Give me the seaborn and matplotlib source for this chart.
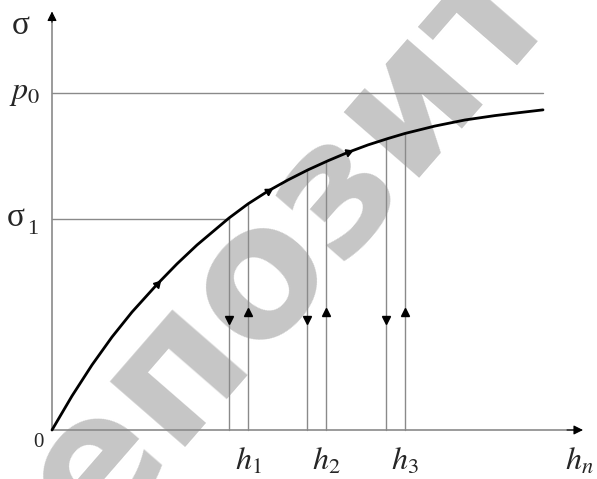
import numpy as np
import pandas as pd
import matplotlib
matplotlib.use("Agg")
import matplotlib.pyplot as plt
import seaborn as sns

# curve (h in arbitrary units, sigma scaled so p0 = 10)
curve_h = [0.0, 0.4, 0.8, 1.2, 1.6, 2.1, 2.5, 2.9, 3.3, 3.54, 3.92, 4.32,
           4.72, 5.12, 5.52, 5.92, 6.32, 6.72, 7.06, 7.66, 8.26, 8.86, 9.36, 9.82]
curve_s = [0.0, 1.01, 1.93, 2.76, 3.50, 4.32, 4.93, 5.49, 5.99, 6.29, 6.71, 7.09,
           7.42, 7.72, 7.99, 8.24, 8.46, 8.65, 8.80, 9.02, 9.20, 9.33, 9.42, 9.50]

p0 = 10.0
sigma1 = 6.26
h_down = [3.54, 5.10, 6.68]   # unloading lines (arrow down)
h_up = [3.92, 5.48, 7.06]     # reloading lines (arrow up)
h_labels = ["$h_1$", "$h_2$", "$h_3$"]
arrow_level = 3.38
curve_arrow_h = [2.1, 4.32, 5.92]

sns.set_style("white")
plt.rcParams["font.family"] = ["Liberation Serif", "DejaVu Serif"]
plt.rcParams["mathtext.fontset"] = "stix"

fig = plt.figure(figsize=(5.97, 4.79), dpi=100)
ax = fig.add_axes([0, 0, 1, 1])
ax.set_xlim(-1.04, 10.9)
ax.set_ylim(-1.454, 12.76)
ax.axis("off")

# watermark
ax.text(-0.9, -6.6, "Репозиторий БНТУ", rotation=49, rotation_mode="anchor",
        ha="left", va="baseline", fontsize=131, fontweight="bold",
        family="DejaVu Sans", color="#c6c6c6", zorder=0)

grey = "#8a8a8a"
# axes with arrows
ax.plot([0, 10.5], [0, 0], color=grey, lw=1.2)
ax.plot([0, 0], [0, 12.2], color=grey, lw=1.2)
ax.annotate("", xy=(10.62, 0), xytext=(10.3, 0),
            arrowprops=dict(arrowstyle="-|>", color="black", lw=0.8,
                            mutation_scale=14, shrinkA=0, shrinkB=0))
ax.annotate("", xy=(0, 12.42), xytext=(0, 12.1),
            arrowprops=dict(arrowstyle="-|>", color="black", lw=0.8,
                            mutation_scale=14, shrinkA=0, shrinkB=0))

# horizontal reference lines
ax.plot([0, curve_h[-1]], [p0, p0], color=grey, lw=1)
ax.plot([0, h_down[0]], [sigma1, sigma1], color=grey, lw=1)

# vertical unloading / reloading lines
for hd, hu in zip(h_down, h_up):
    for hx in (hd, hu):
        top = np.interp(hx, curve_h, curve_s)
        ax.plot([hx, hx], [0, top], color=grey, lw=1)
    ax.plot(hd, arrow_level - 0.12, marker="v", color="black", ms=6)
    ax.plot(hu, arrow_level + 0.12, marker="^", color="black", ms=6)

# main curve
df = pd.DataFrame({"h": curve_h, "s": curve_s})
sns.lineplot(data=df, x="h", y="s", ax=ax, color="black", lw=2, zorder=5)
for hc in curve_arrow_h:
    i = np.searchsorted(curve_h, hc)
    dx = (curve_h[i + 1] - curve_h[i - 1]) * 50
    dy = (curve_s[i + 1] - curve_s[i - 1]) * 33.7
    ang = np.degrees(np.arctan2(dy, dx))
    ax.plot(hc, np.interp(hc, curve_h, curve_s), marker=(3, 0, ang - 90),
            color="black", ms=6, zorder=6)

# labels
ax.text(-0.62, 12.0, "σ", fontsize=24, ha="center", va="center")
ax.text(-0.55, p0, "$p_0$", fontsize=23, ha="center", va="center")
ax.text(-0.72, sigma1 + 0.05, "σ", fontsize=24, ha="center", va="center")
ax.text(-0.38, sigma1 - 0.3, "1", fontsize=16, ha="center", va="center")
ax.text(-0.28, -0.38, "0", fontsize=15, ha="center", va="center")
for hx, lab in zip(h_up, h_labels):
    ax.text(hx, -0.95, lab, fontsize=23, ha="center", va="center")
ax.text(10.55, -0.95, "$h_n$", fontsize=23, ha="center", va="center")

fig.savefig("out.png", dpi=100)
